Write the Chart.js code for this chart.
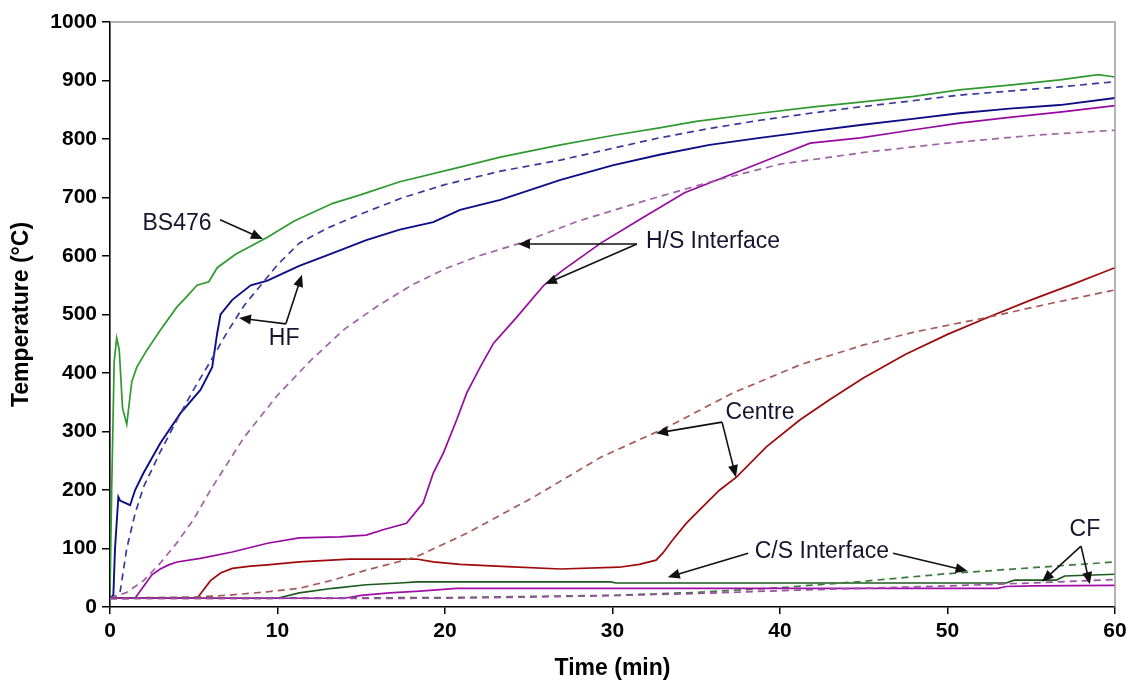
<!DOCTYPE html>
<html>
<head>
<meta charset="utf-8">
<script src="https://cdn.jsdelivr.net/npm/chart.js@4.4.1/dist/chart.umd.min.js"></script>
<style>
  html, body { margin: 0; padding: 0; background: #fff; }
  #wrap { width: 1132px; height: 688px; position: relative; }
</style>
</head>
<body>
<div id="wrap"><canvas id="c" width="1132" height="688"></canvas></div>
<script>
// ---- data (time in min, temperature in °C) ----
const xTicks = [0, 10, 20, 30, 40, 50, 60];
const yTicks = [0, 100, 200, 300, 400, 500, 600, 700, 800, 900, 1000];

const bs476T = [0, 0.1, 0.25, 0.4, 0.55, 0.75, 1.0, 1.3, 1.6, 2.2, 3.0, 4.0, 4.4, 5.2, 5.9, 6.4, 7.5, 9.4, 11, 13.3, 14.9, 17.3, 20.9, 23.3, 26.9, 30, 32.8, 35, 38.8, 42, 44.8, 48, 50.7, 54, 56.7, 59, 60];
const bs476V = [20, 200, 420, 460, 440, 340, 312, 385, 410, 439, 473, 513, 525, 550, 556, 580, 603, 632, 660, 690, 704, 727, 752, 769, 790, 806, 819, 830, 844, 855, 863, 873, 884, 893, 901, 910, 906];

const hfMeasT = [0, 0.2, 0.3, 0.5, 0.6, 0.9, 1.2, 1.5, 2.0, 3.0, 4.2, 5.4, 6.1, 6.4, 6.6, 7.3, 8.4, 9.4, 10.3, 11.3, 13.3, 15.3, 17.3, 19.3, 20.9, 23.3, 26.9, 30, 32.8, 35.8, 38.8, 41.8, 44.8, 47.8, 50.7, 53.7, 56.7, 60];
const hfMeasV = [15, 20, 100, 188, 182, 178, 174, 200, 229, 280, 331, 371, 410, 468, 500, 525, 550, 558, 570, 583, 605, 627, 645, 658, 679, 696, 730, 755, 773, 790, 802, 813, 824, 834, 844, 852, 858, 870];

const hfPredT = [0, 0.3, 0.6, 1, 1.5, 2, 3, 4, 5, 6, 7, 8, 9, 10, 11.3, 13, 15, 17.5, 20, 23.3, 26.9, 30, 32.8, 35.8, 38.8, 41.8, 44.8, 47.8, 50.7, 53.7, 56.7, 60];
const hfPredV = [15, 18, 25, 100, 160, 205, 265, 320, 372, 420, 470, 515, 550, 585, 622, 648, 672, 700, 722, 745, 764, 784, 802, 818, 832, 844, 855, 865, 875, 882, 889, 898];

const hsMeasT = [0, 1.5, 2.0, 2.5, 3.0, 3.5, 4.0, 5.4, 7.3, 9.4, 11.3, 13.7, 15.3, 16.3, 17.7, 18.7, 19.3, 19.9, 20.7, 21.3, 22.1, 22.9, 24.3, 25.9, 27, 29.3, 31.6, 34.3, 37.3, 40.3, 41.8, 44.8, 47.8, 50.7, 53.7, 56.7, 60];
const hsMeasV = [15, 15, 35, 55, 65, 72, 77, 83, 94, 109, 118, 120, 123, 132, 143, 178, 229, 263, 320, 366, 410, 451, 496, 550, 575, 622, 662, 708, 742, 776, 793, 802, 815, 827, 837, 846, 857];

const hsPredT = [0, 1, 2, 3, 4, 5, 6, 8, 10, 12, 14, 16, 18, 20, 22, 24.5, 28, 32, 36, 40, 45, 50, 55, 60];
const hsPredV = [15, 25, 45, 75, 110, 150, 200, 290, 362, 422, 475, 515, 550, 578, 600, 622, 660, 695, 728, 757, 777, 793, 806, 815];

const centreMeasT = [0, 5.2, 5.6, 6.0, 6.6, 7.3, 8.4, 9.4, 11.3, 14.3, 18.3, 19.3, 20.9, 23.7, 26.9, 30.4, 31.6, 32.6, 33, 33.6, 34.4, 35.2, 36.4, 37.4, 39.2, 41.2, 43, 45, 47.5, 50, 52.5, 55, 57.5, 60];
const centreMeasV = [15, 15, 30, 45, 58, 66, 70, 72, 77, 82, 82, 77, 73, 69, 65, 68, 73, 80, 92, 115, 143, 166, 200, 222, 274, 320, 355, 392, 432, 466, 496, 525, 552, 580];

const centrePredT = [0, 5, 7, 9.4, 11.3, 13.3, 15.3, 17.3, 18.3, 21.3, 25.3, 29.3, 33.3, 37.2, 41.2, 45, 48, 52.2, 56, 60];
const centrePredV = [15, 17, 20, 26, 32, 46, 63, 78, 86, 126, 188, 256, 308, 366, 414, 448, 470, 494, 518, 542];

const csMeasT = [0, 10, 11.3, 13.3, 15.3, 17.3, 18.3, 29.9, 30.2, 53.5, 54, 56.5, 57, 60];
const csMeasV = [15, 15, 24, 32, 38, 41, 43, 43, 41, 41, 46, 46, 53, 56];

const csPredT = [0, 20, 25, 30, 35, 40, 45, 50, 55, 60];
const csPredV = [15, 16, 18, 20, 25, 33, 44, 57, 67, 77];

const cfMeasT = [0, 14, 15, 16.7, 18.5, 20.7, 53, 53.5, 55, 60];
const cfMeasV = [15, 15, 20, 24, 27, 32, 32, 35, 36, 37];

const cfPredT = [0, 20, 25, 29.3, 35, 41.2, 45, 50, 55, 60];
const cfPredV = [14, 15, 17, 19, 23, 29, 32, 36, 41, 47];

// ---- annotations (data units) ----
const notes = [
  { text: 'BS476', x: 4.0, y: 656, arrows: [[6.57, 662, 9.13, 629]] },
  { text: 'HF', x: 10.4, y: 458, arrows: [[10.5, 484, 7.7, 494], [10.5, 484, 11.46, 568]] },
  { text: 'H/S Interface', x: 36.0, y: 625, arrows: [[31.46, 620.5, 24.36, 620.5], [31.46, 620.5, 25.97, 552]] },
  { text: 'Centre', x: 38.8, y: 333, arrows: [[36.54, 316, 32.6, 297], [36.54, 316, 37.37, 222]] },
  { text: 'C/S Interface', x: 42.5, y: 94, arrows: [[38.1, 92, 33.3, 51], [46.75, 92, 51.2, 61.5]] },
  { text: 'CF', x: 58.2, y: 132, arrows: [[57.97, 104, 55.64, 43], [57.97, 104, 58.5, 39]] }
];

function pts(t, v) { return t.map((x, i) => ({ x: x, y: v[i] })); }
function ds(label, t, v, color, dashed, width) {
  return {
    label: label, data: pts(t, v), borderColor: color, backgroundColor: color,
    borderWidth: width || 1.7, borderDash: dashed ? [7, 5] : [], pointRadius: 0,
    tension: 0, fill: false
  };
}

const datasets = [
  ds('CF predicted', cfPredT, cfPredV, '#9c50a4', true),
  ds('CF measured', cfMeasT, cfMeasV, '#a010a8', false),
  ds('C/S predicted', csPredT, csPredV, '#3d7a3d', true),
  ds('C/S measured', csMeasT, csMeasV, '#1d5a1d', false),
  ds('Centre predicted', centrePredT, centrePredV, '#a85a5a', true),
  ds('Centre measured', centreMeasT, centreMeasV, '#9e0a0a', false),
  ds('H/S predicted', hsPredT, hsPredV, '#a064a6', true),
  ds('H/S measured', hsMeasT, hsMeasV, '#970a9f', false),
  ds('HF predicted', hfPredT, hfPredV, '#3a3a9e', true),
  ds('HF measured', hfMeasT, hfMeasV, '#0d0d85', false, 1.9),
  ds('BS476', bs476T, bs476V, '#2f9a2f', false)
];

const frame = {
  id: 'frame',
  afterDatasetsDraw(chart) {
    const { ctx, chartArea: a, scales } = chart;
    ctx.save();
    ctx.strokeStyle = '#9a9a9a';
    ctx.lineWidth = 1.5;
    ctx.beginPath();
    ctx.moveTo(a.left, a.top);
    ctx.lineTo(a.right, a.top);
    ctx.lineTo(a.right, a.bottom);
    ctx.stroke();
    // annotations
    const xs = scales.x, ys = scales.y;
    ctx.font = '23px "Liberation Sans", Arial, sans-serif';
    ctx.textAlign = 'center';
    ctx.textBaseline = 'middle';
    ctx.strokeStyle = '#111';
    ctx.lineWidth = 1.6;
    notes.forEach(n => {
      ctx.fillStyle = '#151530';
      ctx.fillText(n.text, xs.getPixelForValue(n.x), ys.getPixelForValue(n.y));
      n.arrows.forEach(ar => {
        const x1 = xs.getPixelForValue(ar[0]), y1 = ys.getPixelForValue(ar[1]);
        const x2 = xs.getPixelForValue(ar[2]), y2 = ys.getPixelForValue(ar[3]);
        const ang = Math.atan2(y2 - y1, x2 - x1);
        const L = 12, W = 5;
        ctx.beginPath();
        ctx.moveTo(x1, y1);
        ctx.lineTo(x2 - L * 0.8 * Math.cos(ang), y2 - L * 0.8 * Math.sin(ang));
        ctx.stroke();
        ctx.beginPath();
        ctx.moveTo(x2, y2);
        ctx.lineTo(x2 - L * Math.cos(ang) + W * Math.sin(ang), y2 - L * Math.sin(ang) - W * Math.cos(ang));
        ctx.lineTo(x2 - L * Math.cos(ang) - W * Math.sin(ang), y2 - L * Math.sin(ang) + W * Math.cos(ang));
        ctx.closePath();
        ctx.fillStyle = '#111';
        ctx.fill();
      });
    });
    ctx.restore();
  }
};

const tickFont = { family: '"Liberation Sans", Arial, sans-serif', size: 21, weight: 'bold' };
const titleFont = { family: '"Liberation Sans", Arial, sans-serif', size: 23, weight: 'bold' };

new Chart(document.getElementById('c'), {
  type: 'line',
  data: { datasets: datasets },
  options: {
    responsive: false,
    animation: false,
    events: [],
    layout: { padding: { top: 22, right: 17, left: 0, bottom: 0 } },
    plugins: { legend: { display: false }, tooltip: { enabled: false } },
    scales: {
      x: {
        type: 'linear', min: 0, max: 60,
        afterBuildTicks: s => { s.ticks = xTicks.map(v => ({ value: v })); },
        afterFit: s => { s.height = 81; },
        ticks: { font: tickFont, color: '#000', padding: 5, maxRotation: 0, callback: v => String(v) },
        grid: { drawOnChartArea: false, drawTicks: true, tickLength: 7, color: '#000', lineWidth: 1.5 },
        border: { color: '#000', width: 1.6 },
        title: { display: true, text: 'Time (min)', font: titleFont, color: '#000', padding: { top: 0, bottom: 6 } }
      },
      y: {
        type: 'linear', min: 0, max: 1000,
        afterBuildTicks: s => { s.ticks = yTicks.map(v => ({ value: v })); },
        afterFit: s => { s.width = 110; },
        ticks: { font: tickFont, color: '#000', padding: 5, callback: v => String(v) },
        grid: { drawOnChartArea: false, drawTicks: true, tickLength: 8, color: '#000', lineWidth: 1.5 },
        border: { color: '#000', width: 1.6 },
        title: { display: true, text: 'Temperature (°C)', font: titleFont, color: '#000', padding: { top: 8, bottom: 0 } }
      }
    }
  },
  plugins: [frame]
});
</script>
</body>
</html>
